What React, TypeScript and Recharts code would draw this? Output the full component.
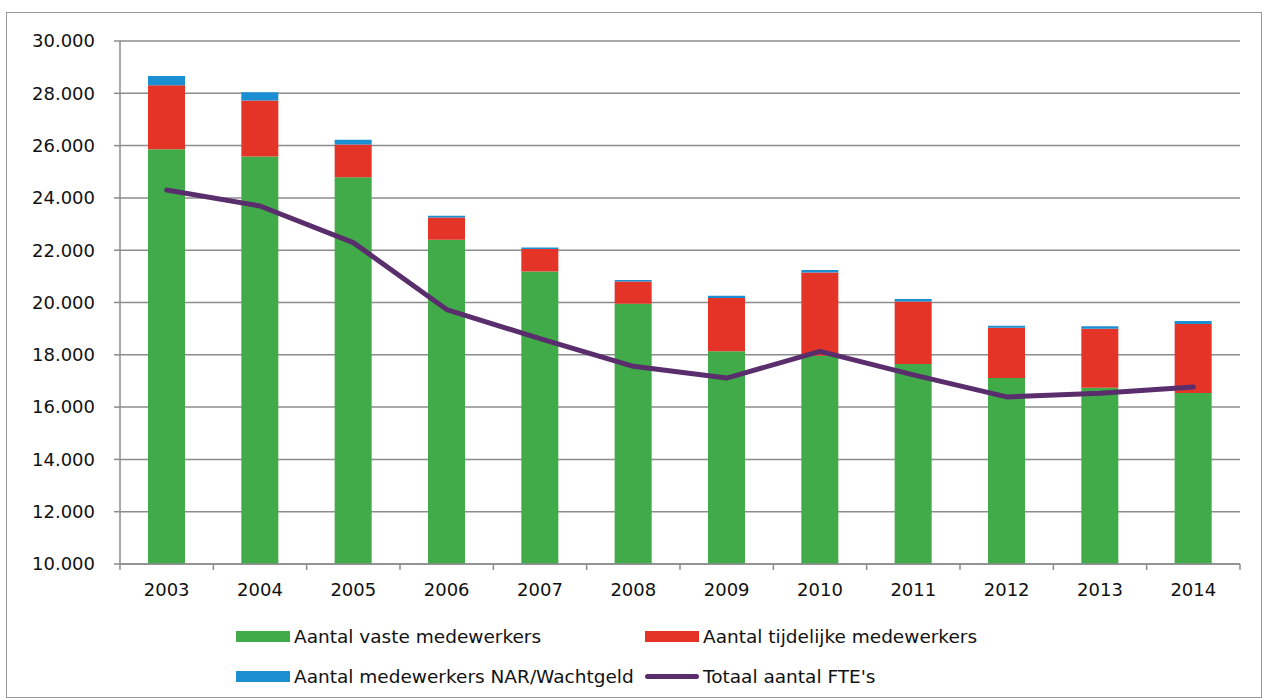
import {
  Bar,
  CartesianGrid,
  ComposedChart,
  Line,
  XAxis,
  YAxis,
} from "recharts";

const years = ["2003", "2004", "2005", "2006", "2007", "2008", "2009", "2010", "2011", "2012", "2013", "2014"];
const vast = [25860, 25580, 24790, 22400, 21190, 19950, 18140, 17960, 17650, 17110, 16740, 16540];
const tijdelijk = [2450, 2140, 1250, 850, 860, 850, 2030, 3190, 2390, 1920, 2255, 2635];
const nar = [355, 320, 180, 65, 50, 65, 90, 90, 90, 80, 100, 115];
const fte = [24300, 23690, 22290, 19730, 18620, 17560, 17110, 18130, 17230, 16390, 16530, 16770];
const yTicks = [10000, 12000, 14000, 16000, 18000, 20000, 22000, 24000, 26000, 28000, 30000];

const data = years.map((year, i) => ({
  year,
  vast: vast[i],
  tijdelijk: tijdelijk[i],
  nar: nar[i],
  fte: fte[i],
}));

const W = 1265;
const H = 698;
const xAxisHeight = 30;
const margin = { top: 41, right: 25, left: 0, bottom: 134 - xAxisHeight };
const yAxisWidth = 120;
const band = (W - margin.left - margin.right - yAxisWidth) / years.length;

const FONT = "'DejaVu Sans', Verdana, sans-serif";
const GREEN = "#41ab4a";
const RED = "#e33427";
const BLUE = "#1b8fd2";
const PURPLE = "#5a2d6c";
const AXIS = "#8c8c8c";

const fmt = (v: number) => String(v).replace(/\B(?=(\d{3})+(?!\d))/g, ".");

const YearTick = (props: any) => {
  const { x, y, payload, index } = props;
  return (
    <g>
      <line x1={x - band / 2} x2={x - band / 2} y1={y} y2={y + 6} stroke={AXIS} strokeWidth={1.5} />
      {index === years.length - 1 && (
        <line x1={x + band / 2} x2={x + band / 2} y1={y} y2={y + 6} stroke={AXIS} strokeWidth={1.5} />
      )}
      <text x={x} y={y + 19} dy="0.71em" textAnchor="middle" fontSize={18} fontFamily={FONT} fill="#111">
        {payload.value}
      </text>
    </g>
  );
};

const legendItems = [
  { label: "Aantal vaste medewerkers", color: GREEN, type: "rect", col: 0, row: 0 },
  { label: "Aantal tijdelijke medewerkers", color: RED, type: "rect", col: 1, row: 0 },
  { label: "Aantal medewerkers NAR/Wachtgeld", color: BLUE, type: "rect", col: 0, row: 1 },
  { label: "Totaal aantal FTE's", color: PURPLE, type: "line", col: 1, row: 1 },
];

const ChartLegend = () => (
  <div style={{ position: "absolute", left: 0, top: 618, width: W, height: 80, fontFamily: FONT, fontSize: 18.5, color: "#111" }}>
    {legendItems.map((it) => (
      <div
        key={it.label}
        style={{
          position: "absolute",
          left: it.col === 0 ? 236 : 645,
          top: it.row * 40,
          height: 36,
          display: "flex",
          alignItems: "center",
          whiteSpace: "nowrap",
        }}
      >
        {it.type === "rect" ? (
          <span style={{ display: "inline-block", width: 54, height: 11, background: it.color, marginRight: 4 }} />
        ) : (
          <span
            style={{ display: "inline-block", width: 54, height: 5, borderRadius: 3, background: it.color, marginRight: 4 }}
          />
        )}
        <span>{it.label}</span>
      </div>
    ))}
  </div>
);

export default function App() {
  return (
    <div style={{ position: "absolute", left: 0, top: 0, width: W, height: H, background: "#fff" }}>
      <div
        style={{
          position: "absolute",
          left: 6,
          top: 12,
          width: 1254,
          height: 684,
          border: "1.5px solid #999",
        }}
      />
      <div style={{ position: "absolute", left: 0, top: 0 }}>
        <ComposedChart width={W} height={H} data={data} margin={margin}>
          <CartesianGrid vertical={false} stroke={AXIS} strokeWidth={1.5} />
          <XAxis
            dataKey="year"
            height={xAxisHeight}
            axisLine={{ stroke: AXIS, strokeWidth: 1.5 }}
            tickLine={false}
            tickSize={0}
            tickMargin={0}
            tick={<YearTick />}
            interval={0}
          />
          <YAxis
            width={yAxisWidth}
            domain={[10000, 30000]}
            ticks={yTicks}
            allowDataOverflow
            tickFormatter={fmt}
            axisLine={{ stroke: AXIS, strokeWidth: 1.5 }}
            tickLine={{ stroke: AXIS, strokeWidth: 1.5 }}
            tickSize={6}
            tickMargin={19}
            tick={{ fontSize: 18, fontFamily: FONT, fill: "#111" }}
          />
          <Bar dataKey="vast" stackId="a" fill={GREEN} barSize={37} isAnimationActive={false} />
          <Bar dataKey="tijdelijk" stackId="a" fill={RED} barSize={37} isAnimationActive={false} />
          <Bar dataKey="nar" stackId="a" fill={BLUE} barSize={37} isAnimationActive={false} />
          <Line
            dataKey="fte"
            type="linear"
            stroke={PURPLE}
            strokeWidth={5}
            dot={false}
            strokeLinejoin="round"
            strokeLinecap="round"
            isAnimationActive={false}
          />
        </ComposedChart>
      </div>
      <ChartLegend />
    </div>
  );
}
